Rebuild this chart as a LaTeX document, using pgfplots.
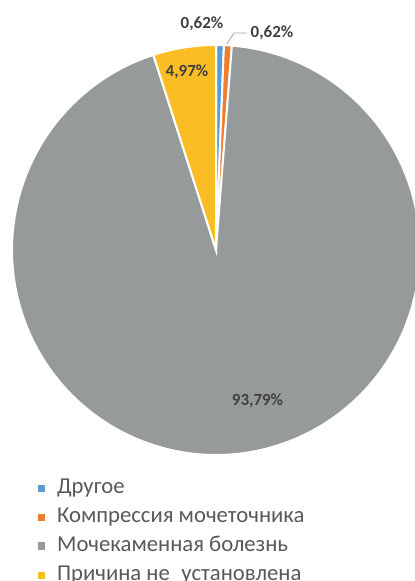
\documentclass[border=0pt]{standalone}
\usepackage{pgfplots}
\pgfplotsset{compat=1.18}
\usepackage{fontspec}
\setmainfont{Carlito}
\definecolor{cblue}{HTML}{5B9BD5}
\definecolor{corange}{HTML}{ED7D31}
\definecolor{cgray}{HTML}{979A9B}
\definecolor{cyellow}{HTML}{FBBD24}
\definecolor{labtext}{HTML}{404040}
\definecolor{legtext}{HTML}{595959}
\definecolor{leader}{HTML}{A6A6A6}
% data (percent)
\def\vA{0.62}  % Другое
\def\vB{0.62}  % Компрессия мочеточника
\def\vC{93.79} % Мочекаменная болезнь
\def\vD{4.97}  % Причина не установлена
\pgfmathsetmacro{\aA}{90}
\pgfmathsetmacro{\aB}{\aA-\vA*3.6}
\pgfmathsetmacro{\aC}{\aB-\vB*3.6}
\pgfmathsetmacro{\aD}{\aC-\vC*3.6}
\pgfmathsetmacro{\aE}{\aD-\vD*3.6}
\begin{document}
\begin{tikzpicture}
\begin{axis}[name=ax, x=1pt, y=1pt, xmin=0, xmax=415, ymin=0, ymax=581,
  enlargelimits=false, hide axis, clip=true,
  legend image code/.code={\fill[#1, draw=none] (0pt,-3.7pt) rectangle (7.4pt,3.7pt);},
  legend cell align=left,
  legend style={at={(axis cs:37.5,103)}, anchor=north west, draw=none, fill=none,
    inner sep=0pt, column sep=12pt, row sep=9pt,
    font=\fontsize{22.7}{26}\selectfont, text=legtext,
    nodes={inner sep=0pt, text height=15pt, text depth=5pt}},
]
\addplot[fill=cblue, draw=white, line width=2pt, domain=\aB:\aA, samples=10]
  ({216+204*cos(x)},{331+205*sin(x)}) -- (axis cs:216,331) -- cycle;
\addlegendentry{Другое}
\addplot[fill=corange, draw=white, line width=2pt, domain=\aC:\aB, samples=10]
  ({216+204*cos(x)},{331+205*sin(x)}) -- (axis cs:216,331) -- cycle;
\addlegendentry{Компрессия мочеточника}
\addplot[fill=cgray, draw=white, line width=2pt, domain=\aD:\aC, samples=240]
  ({216+204*cos(x)},{331+205*sin(x)}) -- (axis cs:216,331) -- cycle;
\addlegendentry{Мочекаменная болезнь}
\addplot[fill=cyellow, draw=white, line width=2pt, domain=\aE:\aD, samples=20]
  ({216+204*cos(x)},{331+205*sin(x)}) -- (axis cs:216,331) -- cycle;
\addlegendentry{Причина не\hspace{0.5em}установлена}
\draw[leader, line width=0.8pt] (axis cs:227,537) -- (axis cs:234,548) -- (axis cs:247,548);
\node[font=\fontsize{17}{20}\selectfont\bfseries, text=labtext] at (axis cs:202,557) {0,62\%};
\node[font=\fontsize{17}{20}\selectfont\bfseries, text=labtext] at (axis cs:272,548) {0,62\%};
\node[font=\fontsize{17}{20}\selectfont\bfseries, text=labtext] at (axis cs:187,509) {4,97\%};
\node[font=\fontsize{17}{20}\selectfont\bfseries, text=labtext] at (axis cs:257.5,180) {93,79\%};
\end{axis}
\pgfresetboundingbox
\path (ax.south west) rectangle (ax.north east);
\end{tikzpicture}
\end{document}
